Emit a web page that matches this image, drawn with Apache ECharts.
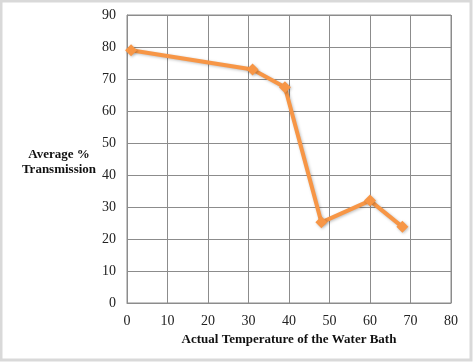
<!DOCTYPE html>
<html>
<head>
<meta charset="utf-8">
<script src="https://cdn.jsdelivr.net/npm/echarts@6/dist/echarts.min.js"></script>
<style>html,body{margin:0;padding:0;background:#fff}#c{width:474px;height:363px}</style>
</head>
<body>
<div id="c"></div>
<script>
var temperatures = [1, 31, 39, 48, 60, 68];
var transmission = [79, 73, 67.4, 25.2, 32, 23.8];
var xTicks = [0, 10, 20, 30, 40, 50, 60, 70, 80];
var yTicks = [0, 10, 20, 30, 40, 50, 60, 70, 80, 90];

var chart = echarts.init(document.getElementById('c'));
chart.setOption({
  animation: false,
  backgroundColor: '#fff',
  graphic: [
    {type: 'rect', shape: {x: 1, y: 1, width: 470, height: 359}, style: {fill: 'none', stroke: '#d9d9d9', lineWidth: 3}, z: -1},
    {type: 'text', x: 59, y: 147, style: {text: 'Average %\nTransmission', font: 'bold 13px "Liberation Serif", serif', fill: '#111', align: 'center', verticalAlign: 'top', lineHeight: 15}, silent: true}
  ],
  grid: {left: 127, right: 23, top: 15, bottom: 60, show: true, borderColor: '#8c8c8c', borderWidth: 1},
  xAxis: {
    type: 'value', min: xTicks[0], max: xTicks[xTicks.length - 1], interval: 10,
    name: 'Actual Temperature of the Water Bath', nameLocation: 'middle', nameGap: 29,
    nameTextStyle: {fontFamily: '"Liberation Serif", serif', fontWeight: 'bold', fontSize: 13, color: '#111'},
    axisLine: {lineStyle: {color: '#8c8c8c'}},
    axisTick: {show: false},
    axisLabel: {fontFamily: '"Liberation Serif", serif', fontSize: 14, color: '#222', margin: 11},
    splitLine: {show: true, lineStyle: {color: '#8c8c8c', width: 1}}
  },
  yAxis: {
    type: 'value', min: yTicks[0], max: yTicks[yTicks.length - 1], interval: 10,
    axisLine: {show: true, lineStyle: {color: '#8c8c8c'}},
    axisTick: {show: false},
    axisLabel: {fontFamily: '"Liberation Serif", serif', fontSize: 14, color: '#222', margin: 11},
    splitLine: {show: true, lineStyle: {color: '#8c8c8c', width: 1}}
  },
  series: [{
    type: 'line',
    data: temperatures.map(function (t, i) { return [t, transmission[i]]; }),
    symbol: 'diamond', symbolSize: 12,
    lineStyle: {color: '#f79646', width: 4, shadowColor: 'rgba(0,0,0,0.25)', shadowBlur: 3, shadowOffsetX: 1, shadowOffsetY: 1},
    itemStyle: {color: '#f79646', shadowColor: 'rgba(0,0,0,0.25)', shadowBlur: 3, shadowOffsetX: 1, shadowOffsetY: 1}
  }]
});
</script>
</body>
</html>
